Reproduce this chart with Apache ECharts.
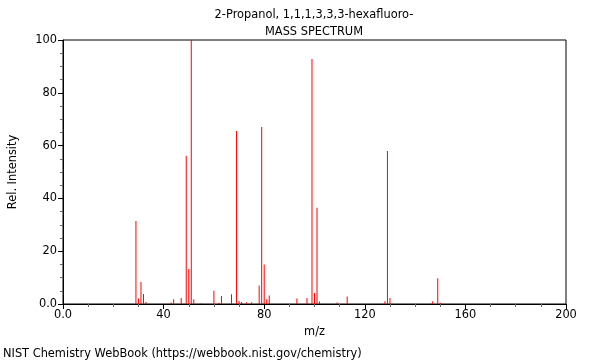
<!DOCTYPE html>
<html>
<head>
<meta charset="utf-8">
<script src="https://cdn.jsdelivr.net/npm/echarts@6/dist/echarts.min.js"></script>
<style>html,body{margin:0;padding:0;background:#fff}#c{width:600px;height:360px}</style>
</head>
<body>
<div id="c"></div>
<script>
const mz =        [29,  30, 31,  32,  33,  43,  44,  47,  49,   50,   51,  52,  55,  60,  62,  63,  67,  69,   70,  71,  73,  75,  78,  79,   80,   81,  82,  93,  97,  99,   100, 101,  102, 109, 113, 128, 129,  130, 147, 149, 150];
const intensity = [31.4,2.1,8.3, 3.8, 0.8, 0.6, 1.8, 2.3, 56.2, 13.3, 100, 1.8, 0.3, 5.0, 0.5, 3.0, 3.7, 65.5, 1.1, 0.8, 0.7, 0.7, 7.0, 67.0, 15.0, 1.8, 3.2, 2.1, 2.3, 92.8, 4.2, 36.5, 0.9, 0.6, 2.8, 1.0, 58.0, 2.3, 1.0, 9.8, 0.5];
const xTickLabels = {0:'0.0',40:'40',80:'80',120:'120',160:'160',200:'200'};
const yTickLabels = {0:'0.0',20:'20',40:'40',60:'60',80:'80',100:'100'};
const titleLines = ['2-Propanol, 1,1,1,3,3,3-hexafluoro-', 'MASS SPECTRUM'];
const footer = 'NIST Chemistry WebBook (https://webbook.nist.gov/chemistry)';

const chart = echarts.init(document.getElementById('c'), null, {renderer:'canvas'});
const font = 'DejaVu Sans';
const fs = 11.4;
chart.setOption({
  animation: false,
  backgroundColor: '#fff',
  textStyle: {fontFamily: font},
  title: [
    {text: titleLines[0], left: 314, top: 10, padding: 0, textAlign: 'center', textStyle: {fontSize: fs, fontWeight: 'normal', color: '#000', fontFamily: font}},
    {text: titleLines[1], left: 314, top: 27, padding: 0, textAlign: 'center', textStyle: {fontSize: fs, fontWeight: 'normal', color: '#000', fontFamily: font}},
    {text: footer, left: 3, top: 349, padding: 0, textStyle: {fontSize: fs, fontWeight: 'normal', color: '#000', fontFamily: font}}
  ],
  grid: {left: 62, right: 34, top: 40, bottom: 56, show: true, borderColor: '#000', borderWidth: 1, backgroundColor: 'transparent'},
  xAxis: {
    type: 'value', min: 0, max: 200, interval: 40,
    name: 'm/z', nameLocation: 'middle', nameGap: 23,
    nameTextStyle: {fontSize: fs, color: '#000', fontFamily: font},
    axisLine: {show: true, onZero: false, lineStyle: {color: '#000'}},
    axisTick: {show: true, length: 5, lineStyle: {color: '#000'}},
    minorTick: {show: true, splitNumber: 4, length: 3, lineStyle: {color: '#666'}},
    splitLine: {show: false},
    axisLabel: {fontSize: fs, color: '#000', margin: 6, fontFamily: font, formatter: v => xTickLabels[v] ?? ''}
  },
  yAxis: {
    type: 'value', min: 0, max: 100, interval: 20,
    name: 'Rel. Intensity', nameLocation: 'middle', nameGap: 44,
    nameTextStyle: {fontSize: fs, color: '#000', fontFamily: font},
    axisLine: {show: true, lineStyle: {color: '#000'}},
    axisTick: {show: true, length: 5, lineStyle: {color: '#000'}},
    minorTick: {show: true, splitNumber: 4, length: 3, lineStyle: {color: '#666'}},
    splitLine: {show: false},
    axisLabel: {fontSize: fs, color: '#000', margin: 6, fontFamily: font, formatter: v => yTickLabels[v] ?? ''}
  },
  series: [{
    type: 'bar',
    data: mz.map((m, i) => [m, intensity[i]]),
    barWidth: 1,
    itemStyle: {color: '#ff0000'},
    emphasis: {disabled: true}
  }]
});
</script>
</body>
</html>
